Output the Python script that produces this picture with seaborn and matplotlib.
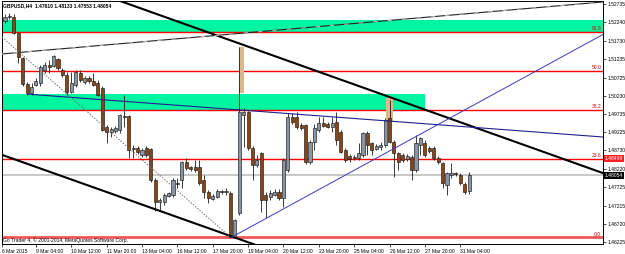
import matplotlib
matplotlib.use("Agg")
import matplotlib.pyplot as plt
import matplotlib.transforms as mtransforms
from matplotlib.patches import Rectangle
import numpy as np
import pandas as pd
import seaborn as sns

# ---------------- data (GBPUSD H4) ----------------
opens = [1.5227, 1.5238, 1.5238, 1.5194, 1.5126, 1.5055, 1.5030, 1.5052, 1.5057, 1.5093,
         1.5107, 1.5104, 1.5123, 1.5093, 1.5079, 1.5033, 1.5052, 1.5085, 1.5060, 1.5071,
         1.5063, 1.5057, 1.5044, 1.4937, 1.4924, 1.4926, 1.4929, 1.4967, 1.4967, 1.4877,
         1.4880, 1.4861, 1.4880, 1.4877, 1.4792, 1.4732, 1.4732, 1.4748, 1.4751, 1.4784,
         1.4792, 1.4841, 1.4828, 1.4828, 1.4828, 1.4792, 1.4759, 1.4740, 1.4746, 1.4762,
         1.4759, 1.4757, 1.4636, 1.4702, 1.4970, 1.4978, 1.4880, 1.4833, 1.4866, 1.4751,
         1.4746, 1.4751, 1.4759, 1.4743, 1.4820, 1.4965, 1.4965, 1.4943, 1.4943, 1.4841,
         1.4896, 1.4929, 1.4948, 1.4945, 1.4937, 1.4951, 1.4924, 1.4874, 1.4858, 1.4852,
         1.4852, 1.4861, 1.4921, 1.4893, 1.4877, 1.4882, 1.4888, 1.4962, 1.4896, 1.4866,
         1.4861, 1.4850, 1.4855, 1.4820, 1.4888, 1.4893, 1.4880, 1.4880, 1.4852, 1.4839,
         1.4779, 1.4806, 1.4811, 1.4806, 1.4781, 1.47610]
highs = [1.5246, 1.5249, 1.5246, 1.5197, 1.5129, 1.5060, 1.5057, 1.5071, 1.5107, 1.5115,
         1.5120, 1.5134, 1.5126, 1.5099, 1.5088, 1.5088, 1.5093, 1.5093, 1.5077, 1.5077,
         1.5085, 1.5066, 1.5049, 1.4943, 1.4937, 1.4940, 1.4973, 1.5025, 1.4970, 1.4888,
         1.4885, 1.4880, 1.4885, 1.4880, 1.4798, 1.4743, 1.4757, 1.4759, 1.4798, 1.4798,
         1.4844, 1.4852, 1.4830, 1.4847, 1.4847, 1.4806, 1.4765, 1.4754, 1.4768, 1.4765,
         1.4770, 1.4762, 1.4686, 1.5156, 1.4989, 1.4981, 1.4885, 1.4861, 1.4869, 1.4759,
         1.4765, 1.4768, 1.4768, 1.4852, 1.4975, 1.4975, 1.4978, 1.4948, 1.4945, 1.4902,
         1.4945, 1.4965, 1.4965, 1.4951, 1.4965, 1.4978, 1.4929, 1.4880, 1.4863, 1.4861,
         1.4893, 1.4924, 1.4926, 1.4896, 1.4891, 1.4896, 1.4962, 1.5011, 1.4902, 1.4869,
         1.4866, 1.4863, 1.4861, 1.4915, 1.4910, 1.4902, 1.4885, 1.4885, 1.4858, 1.4841,
         1.4814, 1.4839, 1.4814, 1.4811, 1.4787, 1.48133]
lows = [1.5222, 1.5233, 1.5192, 1.5112, 1.5049, 1.5025, 1.5025, 1.5049, 1.5049, 1.5085,
        1.5085, 1.5101, 1.5093, 1.5074, 1.5025, 1.5030, 1.5047, 1.5060, 1.5055, 1.5057,
        1.5049, 1.5022, 1.4926, 1.4893, 1.4910, 1.4921, 1.4921, 1.4937, 1.4852, 1.4852,
        1.4863, 1.4855, 1.4855, 1.4787, 1.4707, 1.4710, 1.4724, 1.4746, 1.4746, 1.4770,
        1.4770, 1.4820, 1.4817, 1.4814, 1.4779, 1.4743, 1.4729, 1.4738, 1.4743, 1.4754,
        1.4751, 1.4634, 1.4634, 1.4696, 1.4882, 1.4874, 1.4792, 1.4828, 1.4705, 1.4688,
        1.4738, 1.4748, 1.4738, 1.4718, 1.4814, 1.4945, 1.4932, 1.4929, 1.4836, 1.4836,
        1.4874, 1.4924, 1.4937, 1.4934, 1.4924, 1.4888, 1.4866, 1.4841, 1.4841, 1.4847,
        1.4847, 1.4855, 1.4861, 1.4861, 1.4874, 1.4874, 1.4882, 1.4893, 1.4800, 1.4820,
        1.4841, 1.4844, 1.4792, 1.4814, 1.4861, 1.4855, 1.4866, 1.4847, 1.4836, 1.4770,
        1.4751, 1.4798, 1.4803, 1.4779, 1.4754, 1.47553]
closes = [1.5238, 1.5240, 1.5194, 1.5129, 1.5055, 1.5030, 1.5047, 1.5063, 1.5101, 1.5107,
          1.5101, 1.5131, 1.5099, 1.5079, 1.5033, 1.5057, 1.5088, 1.5066, 1.5071, 1.5063,
          1.5052, 1.5025, 1.4929, 1.4924, 1.4932, 1.4934, 1.4970, 1.4965, 1.4874, 1.4880,
          1.4869, 1.4874, 1.4861, 1.4792, 1.4732, 1.4738, 1.4751, 1.4757, 1.4792, 1.4781,
          1.4841, 1.4825, 1.4822, 1.4820, 1.4784, 1.4759, 1.4743, 1.4748, 1.4762, 1.4759,
          1.4762, 1.4636, 1.4683, 1.4978, 1.4978, 1.4880, 1.4833, 1.4847, 1.4738, 1.4738,
          1.4757, 1.4759, 1.4743, 1.4847, 1.4965, 1.4951, 1.4937, 1.4934, 1.4841, 1.4896,
          1.4934, 1.4948, 1.4940, 1.4937, 1.4948, 1.4902, 1.4869, 1.4847, 1.4850, 1.4855,
          1.4866, 1.4921, 1.4888, 1.4874, 1.4885, 1.4888, 1.4956, 1.4896, 1.4866, 1.4841,
          1.4847, 1.4858, 1.4820, 1.4893, 1.4907, 1.4861, 1.4871, 1.4852, 1.4841, 1.4784,
          1.4811, 1.4811, 1.4809, 1.4784, 1.4759, 1.48054]

x_tick_pos = [-0.6, 7, 15, 23, 31, 39, 47, 55, 63, 71, 79, 87, 95, 103]
x_tick_labels = ["6 Mar 2015", "9 Mar 04:00", "10 Mar 12:00", "11 Mar 20:00", "13 Mar 04:00",
                 "16 Mar 12:00", "17 Mar 20:00", "19 Mar 04:00", "20 Mar 12:00", "23 Mar 20:00",
                 "25 Mar 04:00", "26 Mar 12:00", "27 Mar 20:00", "31 Mar 04:00"]
y_tick_labels = ["1.52735", "1.52240", "1.51730", "1.51235", "1.50725", "1.50230", "1.49735",
                 "1.49225", "1.48730", "1.48220", "1.47725", "1.47215", "1.46720", "1.46225"]

fib_names = ["0.0", "23.6", "38.2", "50.0", "61.8"]
fib_prices = [1.4635, 1.48499, 1.4983, 1.5090, 1.5198]
current_price = 1.48054

# trend line anchors (bar index, price)
chan_upper_t, chan_upper_p = [25.3, 135.1], [1.5285, 1.4812]
chan_lower_t, chan_lower_p = [-0.68, 55.0], [1.4861, 1.4622]
thin_upper_t, thin_upper_p = [-0.68, 135.1], [1.5137, 1.5279]
navy_t, navy_p = [5.2, 135.1], [1.5027, 1.4910]
blue_up_t, blue_up_p = [51.0, 135.1], [1.4634, 1.5189]
dotted_t, dotted_p = [-0.68, 51.0], [1.5183, 1.4636]

# zones: (t0, t1, p_low, p_high)
green_zones = [(-0.68, 135.3, 1.5198, 1.5230), (-0.68, 95.0, 1.4983, 1.5027)]
tan_zones = [(52.9, 54.0, 1.5030, 1.5156), (86.2, 87.8, 1.4951, 1.5016)]

# ---------------- drawing ----------------
sns.set_theme(style="white")
plt.rcParams['font.family'] = ['Liberation Sans', 'DejaVu Sans']
FS = 3.6

W, H = 625, 254
fig = plt.figure(figsize=(W / 100, H / 100), dpi=100)
fig.patch.set_facecolor("white")
ax = fig.add_axes([2 / W, (H - 244) / H, 601 / W, 243 / H])
ax.set_facecolor("white")
XMIN, XMAX = -0.68, 135.3
ax.set_xlim(XMIN, XMAX)
ax.set_ylim(1.46172, 1.52818)

df = pd.DataFrame({"open": opens, "high": highs, "low": lows, "close": closes})
df["t"] = np.arange(len(df))
df["bull"] = df["close"] >= df["open"]

for t0, t1, pl, ph in green_zones:
    ax.add_patch(Rectangle((t0, pl), t1 - t0, ph - pl, facecolor="#00f5a0", edgecolor="none", zorder=1))

for i, p in enumerate(fib_prices):
    if i == 0:
        ax.axhline(p, color="#f25555", lw=2.0, zorder=2)
    else:
        ax.axhline(p, color="#ff0000", lw=1.0, zorder=2)
ax.axhline(current_price, color="#c4c4c4", lw=1.3, zorder=2)

for t0, t1, pl, ph in tan_zones:
    ax.add_patch(Rectangle((t0, pl), t1 - t0, ph - pl, facecolor="#dcb888", edgecolor="none", zorder=2.5))

# candles
ax.vlines(df["t"], df["low"], df["high"], color="#1a1a1a", lw=0.6, zorder=3)
body_bottom = np.minimum(df["open"], df["close"])
body_h = np.maximum(np.abs(df["close"] - df["open"]), 0.00005)
colors = np.where(df["bull"], "#8895a5", "#8b4513")
ax.bar(df["t"], body_h, bottom=body_bottom, width=0.7, color=colors,
       edgecolor="#1a1a1a", linewidth=0.45, zorder=3.5)


def extend(ts, ps, t_from, t_to):
    s = (ps[1] - ps[0]) / (ts[1] - ts[0])
    return [t_from, t_to], [ps[0] + s * (t_from - ts[0]), ps[0] + s * (t_to - ts[0])]


def draw(tt, pp, **kw):
    sns.lineplot(x=tt, y=pp, ax=ax, sort=False, estimator=None, legend=False, **kw)


tt, pp = extend(chan_upper_t, chan_upper_p, XMIN - 2, XMAX + 2)
draw(tt, pp, color="black", lw=1.5, zorder=4)
tt, pp = extend(chan_lower_t, chan_lower_p, XMIN - 2, XMAX + 2)
draw(tt, pp, color="black", lw=1.5, zorder=4)
tt, pp = extend(thin_upper_t, thin_upper_p, XMIN - 2, XMAX + 2)
draw(tt, pp, color="#222222", lw=0.8, zorder=4)
ax.plot(tt, pp, color="#b5b5b5", lw=0.8, dashes=(4, 9), zorder=4.1)
tt, pp = extend(navy_t, navy_p, navy_t[0], XMAX + 2)
draw(tt, pp, color="#20208a", lw=0.8, zorder=4)
tt, pp = extend(blue_up_t, blue_up_p, blue_up_t[0], XMAX + 2)
draw(tt, pp, color="#3a3ac0", lw=0.7, zorder=4)
ax.plot(dotted_t, dotted_p, color="#707070", lw=0.7, ls=(0, (1.5, 1.5)), zorder=4)

# fib labels
trans = mtransforms.blended_transform_factory(ax.transAxes, ax.transData)
for name, p in zip(fib_names, fib_prices):
    ax.text(0.997, p + 0.00025, name, transform=trans, ha="right", va="bottom",
            fontsize=FS, color="#e00000", zorder=5)

# axes styling
for sp in ax.spines.values():
    sp.set_color("black")
    sp.set_linewidth(0.7)
ax.yaxis.tick_right()
ax.set_yticks([float(s) for s in y_tick_labels])
ax.set_yticklabels(y_tick_labels)
ax.set_xticks(x_tick_pos)
ax.set_xticklabels(x_tick_labels, ha="left")
ax.tick_params(axis="y", right=True, left=False, length=2, width=0.5, pad=1.5,
               labelsize=FS, colors="black")
ax.tick_params(axis="x", bottom=True, length=2, width=0.5, pad=1.5,
               labelsize=FS, colors="black")
ax.grid(False)

ax.text(1.003, fib_prices[1], "1.48499", transform=trans, ha="left", va="center",
        fontsize=FS, color="white", clip_on=False, zorder=6,
        bbox=dict(boxstyle="square,pad=0.2", fc="#ff2020", ec="none"))
ax.text(1.003, current_price, "1.48054", transform=trans, ha="left", va="center",
        fontsize=FS, color="white", clip_on=False, zorder=6,
        bbox=dict(boxstyle="square,pad=0.2", fc="black", ec="none"))

fig.text(3 / W, 1 - 5.5 / H, "GBPUSD,H4  1.47610 1.48133 1.47553 1.48054",
         fontsize=FS, color="black", va="center", ha="left", fontweight="bold")
fig.text(3 / W, 1 - 240.5 / H, "Go Trader 4, \u00a9 2001-2014, MetaQuotes Software Corp.",
         fontsize=FS, color="black", va="center", ha="left")

fig.savefig("out.png", dpi=100, facecolor="white")
